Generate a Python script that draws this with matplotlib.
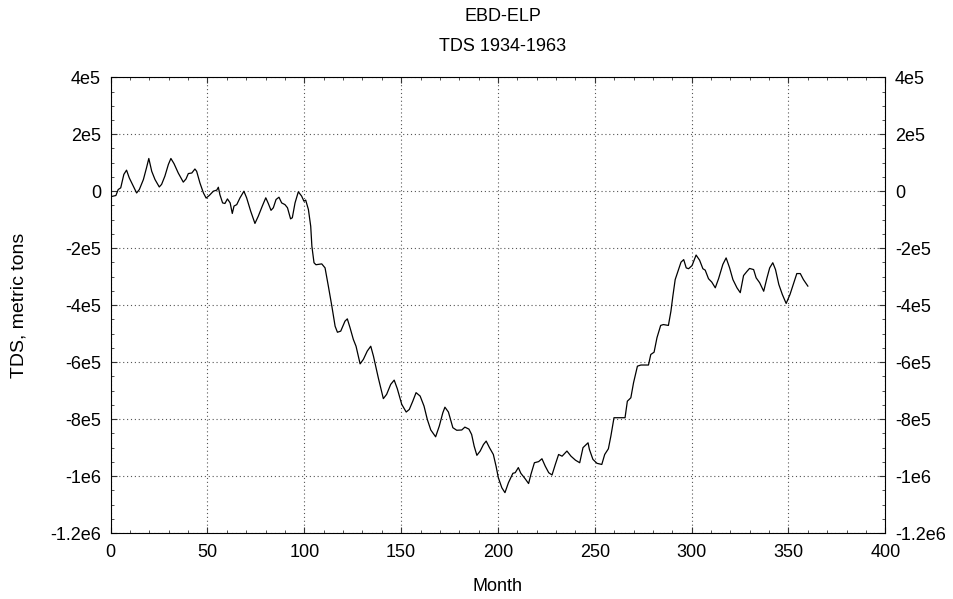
import numpy as np
import matplotlib
matplotlib.use('Agg')
import matplotlib.pyplot as plt
from matplotlib.ticker import MultipleLocator

# month index of each sample
month = [
    0.8, 2.7, 3.9, 5.2, 6.8, 8.2, 9.6, 11.7, 13.4, 14.8,
    16.9, 18.5, 19.7, 21.2, 22.9, 25.1, 26.3, 28.0, 29.8, 31.1,
    32.7, 34.9, 37.5, 38.9, 40.1, 41.9, 43.5, 44.4, 46.1, 47.9,
    49.3, 50.9, 53.0, 54.8, 55.6, 56.4, 57.8, 59.0, 60.3, 61.7,
    62.8, 63.7, 65.1, 66.8, 68.8, 70.2, 72.3, 74.5, 76.2, 78.3,
    80.1, 81.4, 82.8, 84.0, 85.4, 86.9, 88.3, 90.0, 91.3, 92.9,
    93.8, 95.2, 96.9, 98.6, 99.8, 100.7, 102.1, 103.3, 103.9, 105.0,
    106.0, 109.0, 110.7, 112.4, 114.2, 115.9, 117.1, 118.8, 121.0, 122.2,
    123.6, 125.3, 126.7, 127.9, 128.8, 130.5, 132.5, 134.3, 135.7, 138.2,
    140.8, 142.5, 144.6, 146.4, 148.0, 150.3, 152.6, 154.2, 156.0, 157.7,
    159.8, 161.8, 163.5, 165.3, 167.8, 169.7, 171.5, 172.6, 174.4, 176.7,
    178.7, 181.3, 182.9, 185.0, 186.4, 187.7, 189.1, 190.8, 192.5, 193.9,
    195.6, 197.6, 199.0, 200.2, 202.0, 203.6, 205.4, 207.7, 208.9, 210.5,
    211.8, 214.0, 215.8, 217.0, 218.8, 221.0, 222.7, 224.4, 226.2, 227.9,
    229.6, 231.3, 233.1, 235.6, 237.7, 240.0, 242.2, 243.9, 246.5, 247.2,
    249.0, 251.1, 253.6, 255.1, 257.0, 258.3, 259.9, 263.1, 265.6, 266.8,
    268.6, 270.0, 272.0, 273.8, 277.7, 278.9, 280.6, 282.1, 284.0, 285.4,
    288.0, 289.3, 290.3, 291.5, 293.2, 294.5, 295.9, 297.2, 298.4, 300.2,
    302.3, 304.1, 305.8, 307.0, 308.7, 310.4, 312.2, 313.9, 316.1, 317.8,
    319.6, 321.3, 323.4, 325.1, 326.8, 328.6, 329.9, 332.0, 333.3, 335.1,
    337.2, 338.9, 340.3, 341.9, 343.3, 345.0, 346.8, 348.8, 350.8, 352.2,
    354.3, 356.1, 357.7, 360.0,
]

# TDS in thousands of metric tons
tds_k = [
    -18, -15, 6, 12, 59, 74, 47, 18, -6, 6,
    41, 82, 115, 70, 41, 15, 24, 53, 94, 115,
    97, 64, 32, 43, 62, 64, 78, 70, 29, -6,
    -24, -15, 0, 4, 14, -12, -41, -43, -27, -41,
    -78, -52, -47, -23, 0, -23, -70, -113, -88, -52,
    -23, -43, -67, -58, -29, -21, -41, -47, -58, -97,
    -93, -41, -2, -17, -35, -31, -64, -123, -193, -251,
    -258, -255, -269, -333, -403, -474, -495, -491, -456, -448,
    -479, -520, -544, -579, -606, -590, -561, -544, -579, -655,
    -728, -713, -678, -663, -693, -748, -775, -766, -737, -707,
    -719, -754, -801, -838, -862, -824, -778, -758, -775, -830,
    -839, -838, -828, -835, -854, -895, -927, -912, -889, -877,
    -900, -924, -965, -1006, -1041, -1058, -1023, -990, -988, -970,
    -990, -1009, -1026, -994, -953, -949, -939, -965, -988, -996,
    -959, -924, -930, -912, -930, -944, -953, -900, -883, -906,
    -941, -955, -959, -924, -904, -859, -795, -795, -795, -737,
    -725, -672, -614, -610, -610, -573, -565, -514, -471, -468,
    -471, -421, -368, -310, -275, -249, -240, -269, -272, -261,
    -224, -242, -272, -277, -307, -319, -339, -307, -257, -234,
    -269, -310, -339, -356, -296, -281, -271, -275, -304, -321,
    -351, -304, -269, -251, -275, -327, -362, -394, -362, -333,
    -289, -289, -310, -333,
]

yticks = [4e5, 2e5, 0, -2e5, -4e5, -6e5, -8e5, -1e6, -1.2e6]
ytick_labels = ['4e5', '2e5', '0', '-2e5', '-4e5', '-6e5', '-8e5', '-1e6', '-1.2e6']
xticks = [0, 50, 100, 150, 200, 250, 300, 350, 400]


def main():
    plt.rcParams['font.family'] = ['Liberation Sans', 'DejaVu Sans']
    plt.rcParams['font.size'] = 13

    fig = plt.figure(figsize=(9.54, 5.99), dpi=100)
    ax = fig.add_axes([0.116, 0.110, 0.812, 0.761])

    t = np.array(month)
    v = np.array(tds_k) * 1.0e3
    ax.plot(t, v, color='black', linewidth=0.9)

    ax.set_xlim(0, 400)
    ax.set_ylim(-1.2e6, 4e5)
    ax.set_xticks(xticks)
    ax.set_yticks(yticks)
    ax.set_yticklabels(ytick_labels)
    ax.xaxis.set_minor_locator(MultipleLocator(10))
    ax.yaxis.set_minor_locator(MultipleLocator(5e4))

    ax.tick_params(which='both', direction='in', top=True, right=True,
                   labelright=True, color='#333333')
    ax.tick_params(which='major', length=4, width=0.8)
    ax.tick_params(which='minor', length=2.5, width=0.6)
    ax.tick_params(axis='x', pad=8)
    ax.tick_params(axis='y', pad=7)

    ax.grid(True, which='major', linestyle=(0, (1, 2.5)), color='#555555', linewidth=0.8)
    for s in ax.spines.values():
        s.set_linewidth(0.8)

    ax.set_xlabel('Month')
    ax.set_ylabel('TDS, metric tons', fontsize=14)
    ax.xaxis.set_label_coords(0.5, -0.099)
    ax.yaxis.set_label_coords(-0.107, 0.5)

    # two title lines
    fig.text(0.527, 0.972, 'EBD-ELP', ha='center', va='center')
    fig.text(0.527, 0.922, 'TDS 1934-1963', ha='center', va='center')

    fig.savefig('out.png', dpi=100)


if __name__ == '__main__':
    main()
